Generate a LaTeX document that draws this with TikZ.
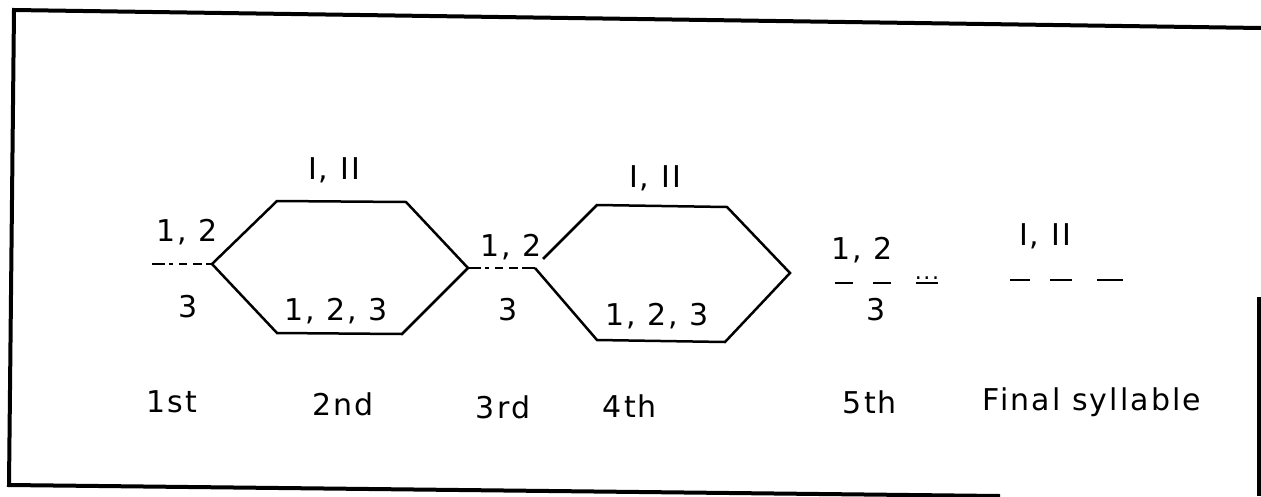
\documentclass[tikz,border=0pt]{standalone}
\usepackage{fontspec}
\setmainfont[LetterSpace=7]{DejaVu Sans}
\begin{document}
\begin{tikzpicture}[x=1pt,y=-1pt,
  lbl/.style={font=\fontsize{30}{32}\selectfont, inner sep=0pt, anchor=center},
  edge/.style={line width=2.5pt, line join=miter},
  frame/.style={line width=4pt},
  dashline/.style={line width=2.5pt, dash pattern=on 13pt off 4pt on 4pt off 6pt on 8pt off 6pt on 9pt off 4pt},
  shortdash/.style={line width=2.5pt}]
\useasboundingbox (0,0) rectangle (1261,496);
% frame (skewed scan)
\draw[frame] (1261,28) -- (14,10) -- (9,485) -- (1000,496);
\draw[frame] (1259,297) -- (1259,496);
% first hexagon
\coordinate (a0) at (152,264);
\coordinate (h1l) at (212,264);
\coordinate (h1ul) at (277,201);
\coordinate (h1ur) at (406,202);
\coordinate (h1r) at (468,268);
\coordinate (h1lr) at (402,334);
\coordinate (h1ll) at (277,333);
\draw[dashline] (a0) -- (h1l);
\draw[edge] (h1l) -- (h1ul) -- (h1ur) -- (h1r) -- (h1lr) -- (h1ll) -- cycle;
% second hexagon
\coordinate (b1) at (535,268);
\coordinate (h2ls) at (543,259);
\coordinate (h2ul) at (597,205);
\coordinate (h2ur) at (727,207);
\coordinate (h2r) at (790,273);
\coordinate (h2lr) at (725,342);
\coordinate (h2ll) at (597,340);
\draw[dashline] (h1r) -- (b1);
\draw[edge] (h2ls) -- (h2ul) -- (h2ur) -- (h2r) -- (h2lr) -- (h2ll) -- (b1);
% labels
\node[lbl] (l12a) at (187,232) {1, 2};
\node[lbl] (l3a) at (188,307) {3};
\node[lbl] (lIa) at (334,170) {I, II};
\node[lbl] (l123a) at (336,311) {1, 2, 3};
\node[lbl] (l12b) at (511,247) {1, 2};
\node[lbl] (l3b) at (508,310) {3};
\node[lbl] (lIb) at (655,178) {I, II};
\node[lbl] (l123b) at (657,316) {1, 2, 3};
% fifth
\node[lbl] (l12c) at (862,250) {1, 2};
\node[lbl] (l3c) at (876,310) {3};
\node[font=\fontsize{22}{24}\selectfont, inner sep=0pt, anchor=base] (dots) at (927,279) {...};
\coordinate (c1s) at (835,283); \coordinate (c1e) at (853,283);
\coordinate (c2s) at (873,283); \coordinate (c2e) at (891,283);
\coordinate (c3s) at (916,283); \coordinate (c3e) at (938,283);
\draw[shortdash] (c1s) -- (c1e);
\draw[shortdash] (c2s) -- (c2e);
\draw[shortdash] (c3s) -- (c3e);
% final
\node[lbl] (lIc) at (1045,236) {I, II};
\coordinate (d1s) at (1010,280); \coordinate (d1e) at (1030,280);
\coordinate (d2s) at (1050,280); \coordinate (d2e) at (1072,280);
\coordinate (d3s) at (1097,280); \coordinate (d3e) at (1123,280);
\draw[shortdash] (d1s) -- (d1e);
\draw[shortdash] (d2s) -- (d2e);
\draw[shortdash] (d3s) -- (d3e);
% bottom labels
\node[lbl] (s1) at (172,402) {1st};
\node[lbl] (s2) at (343,404) {2nd};
\node[lbl] (s3) at (503,407) {3rd};
\node[lbl] (s4) at (630,406) {4th};
\node[lbl] (s5) at (870,402) {5th};
\node[lbl] (sf) at (1092,402) {Final syllable};
\end{tikzpicture}
\end{document}
